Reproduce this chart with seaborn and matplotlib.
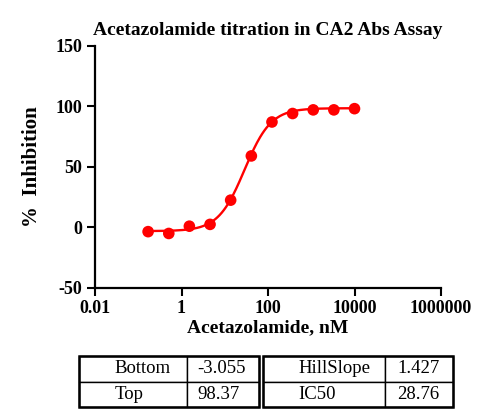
import numpy as np
import pandas as pd
import matplotlib
matplotlib.use("Agg")
import matplotlib.pyplot as plt
import seaborn as sns
from matplotlib.patches import Rectangle
from matplotlib.ticker import FixedLocator, NullLocator

# measured points (nM, % inhibition), 3-fold dilution from 10 uM
conc_nm = [0.169, 0.508, 1.52, 4.57, 13.7, 41.2, 123.5, 370.4, 1111, 3333, 10000]
inhibition = [-3.5, -5.0, 1.0, 2.5, 22.5, 59.0, 87.0, 94.0, 97.0, 97.0, 98.0]

# four-parameter fit shown in the table
fit_names = ["Bottom", "Top", "HillSlope", "IC50"]
fit_values = [-3.055, 98.37, 1.427, 28.76]

x_ticks = [0.01, 1, 100, 10000, 1000000]
x_tick_labels = ["0.01", "1", "100", "10000", "1000000"]
y_ticks = [-50, 0, 50, 100, 150]

sns.set_style("ticks")
plt.rcParams["font.family"] = ["Liberation Serif", "DejaVu Serif"]
plt.rcParams["axes.unicode_minus"] = False
for key in ["text.color", "axes.labelcolor", "xtick.color", "ytick.color"]:
    plt.rcParams[key] = "black"

bottom, top, hill, ic50 = fit_values
xs = np.logspace(np.log10(conc_nm[0]), np.log10(conc_nm[-1]), 200)
curve = pd.DataFrame({"x": xs, "y": bottom + (top - bottom) / (1 + (ic50 / xs) ** hill)})
points = pd.DataFrame({"x": conc_nm, "y": inhibition})

fig = plt.figure(figsize=(5, 4.2), dpi=100)
ax = fig.add_axes([0.19, 0.3143, 0.692, 0.577])

sns.lineplot(data=curve, x="x", y="y", ax=ax, color="#ff0000", linewidth=1.7)
sns.scatterplot(data=points, x="x", y="y", ax=ax, color="#ff0000", s=70,
                edgecolor="none", zorder=3)

ax.set_xscale("log")
ax.set_xlim(0.01, 1000000)
ax.set_ylim(-50, 150)
ax.xaxis.set_major_locator(FixedLocator(x_ticks))
ax.xaxis.set_minor_locator(NullLocator())
ax.set_xticklabels(x_tick_labels)
ax.set_yticks(y_ticks)
for lab in ax.get_xticklabels() + ax.get_yticklabels():
    lab.set_fontweight("bold")
    lab.set_fontsize(13)
ax.tick_params(direction="out", length=6, width=1.5, colors="black", pad=3)
sns.despine(ax=ax)
for side in ["left", "bottom"]:
    ax.spines[side].set_linewidth(1.6)
    ax.spines[side].set_color("black")

ax.set_title("Acetazolamide titration in CA2 Abs Assay", fontsize=14,
             fontweight="bold", pad=8)
ax.set_xlabel("Acetazolamide, nM", fontsize=14, fontweight="bold", labelpad=1)
ax.set_ylabel("%  Inhibition", fontsize=15, fontweight="bold", labelpad=10)

# fit parameter tables (two side by side)
table_specs = [
    ([0.158, 0.031, 0.360, 0.121], fit_names[:2], fit_values[:2], [0.6, 0.4], [0.33, 0.14]),
    ([0.526, 0.031, 0.380, 0.121], fit_names[2:], fit_values[2:], [0.642, 0.358], [0.29, 0.18]),
]
for rect, names, vals, widths, pads in table_specs:
    tax = fig.add_axes(rect)
    tax.axis("off")
    cells = [[n, f"{v:g}"] for n, v in zip(names, vals)]
    tbl = tax.table(cellText=cells, colWidths=widths, bbox=[0, 0, 1, 1],
                    cellLoc="left")
    tbl.auto_set_font_size(False)
    for (r, c), cell in tbl.get_celld().items():
        cell.set_fontsize(13.5)
        cell.set_linewidth(1.0)
        cell.PAD = pads[c]
        cell.get_text().set_fontfamily(["Liberation Serif", "DejaVu Serif"])
        cell.get_text().set_color("black")
    tax.add_patch(Rectangle((0, 0), 1, 1, transform=tax.transAxes, fill=False,
                            linewidth=1.8, edgecolor="black", clip_on=False))

fig.savefig("out.png", dpi=100)
